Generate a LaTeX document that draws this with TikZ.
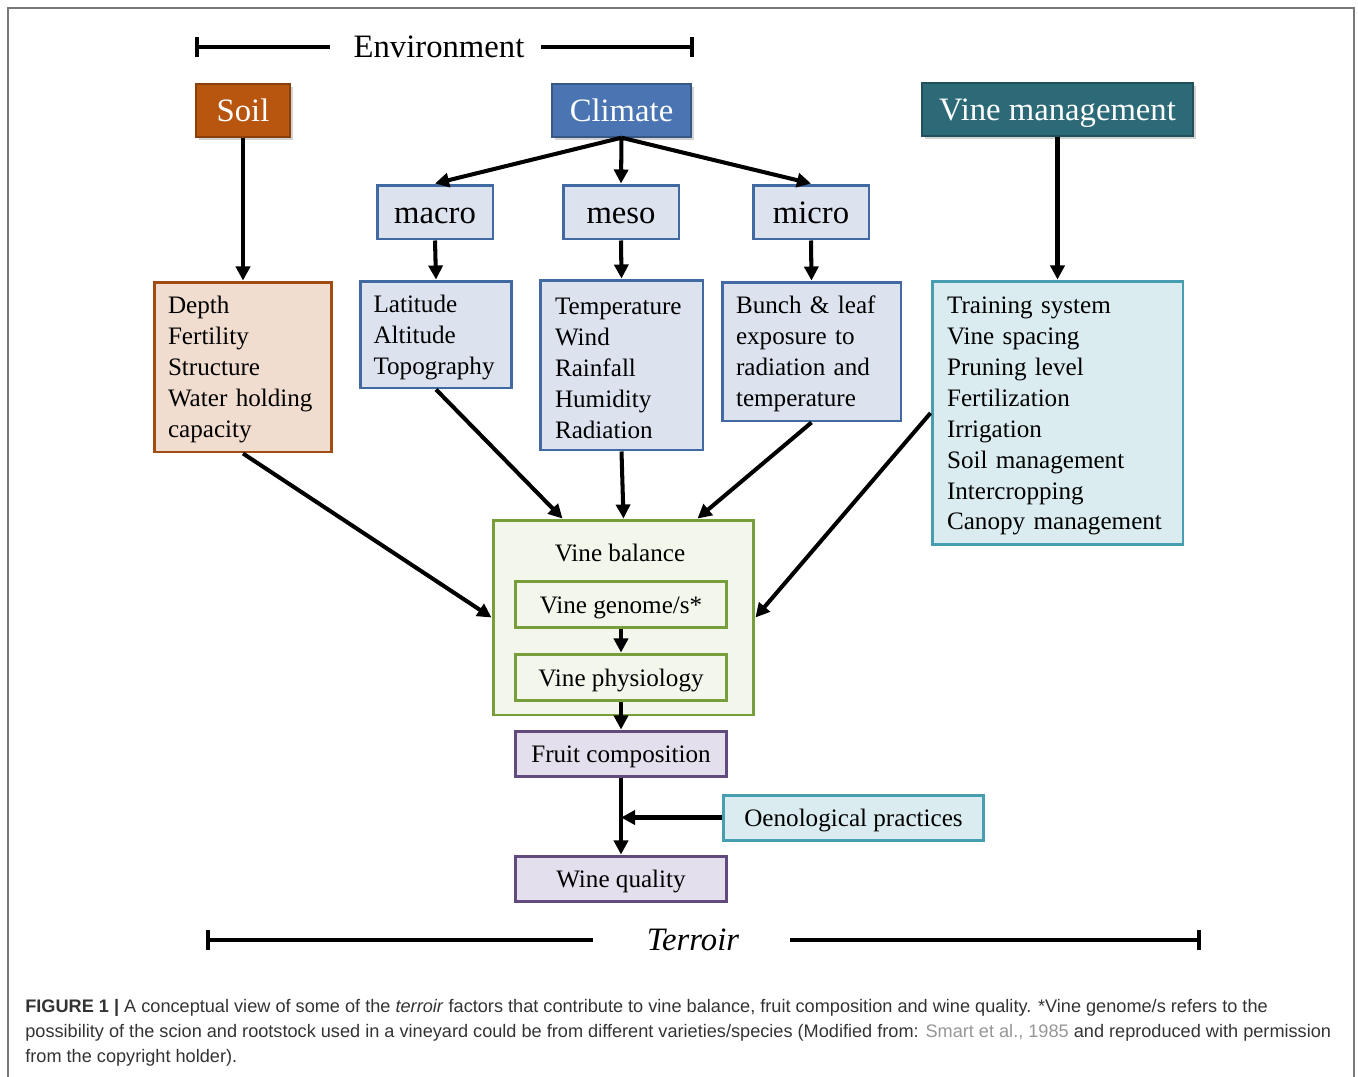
\documentclass[tikz,border=0pt]{standalone}
\usepackage{fontspec}
\setmainfont{Liberation Serif}
\newfontfamily\capfont{Liberation Sans}
\usetikzlibrary{arrows.meta, shadows}

\definecolor{soilhead}{RGB}{184,86,16}
\definecolor{soilfill}{RGB}{241,221,207}
\definecolor{soilline}{RGB}{160,76,18}
\definecolor{climhead}{RGB}{74,117,178}
\definecolor{climfill}{RGB}{220,227,238}
\definecolor{climline}{RGB}{66,106,162}
\definecolor{vmhead}{RGB}{45,106,120}
\definecolor{vmfill}{RGB}{218,236,240}
\definecolor{vmline}{RGB}{70,158,176}
\definecolor{vbfill}{RGB}{243,246,235}
\definecolor{vbline}{RGB}{120,158,60}
\definecolor{fruitfill}{RGB}{228,223,236}
\definecolor{fruitline}{RGB}{96,74,126}
\definecolor{captext}{RGB}{51,51,51}
\definecolor{capref}{RGB}{150,150,150}
\definecolor{framegray}{RGB}{120,120,120}

\newcommand*{\headfont}{\fontsize{18.6}{22}\selectfont}
\newcommand*{\bodyfont}{\fontsize{14.3}{17.6}\selectfont}

\begin{document}
\begin{tikzpicture}[
        x=0.02cm, y=-0.02cm, >={Triangle[length=8pt,width=8pt]},
        link/.style={->, line width=2.3pt},
        bar/.style={line width=2.3pt, {Bar[width=11pt]}-},
        headline/.style={text height=13pt, text depth=0pt},
        bodyline/.style={text height=10.5pt, text depth=0pt},
        head/.style={draw=#1!75!black, fill=#1, text=white, line width=0.8pt,
          font=\headfont, headline, minimum height=1.06cm, inner sep=0pt,
          drop shadow={opacity=0.35, shadow xshift=1.5pt, shadow yshift=-1.5pt}},
        scalebox/.style={draw=climline, fill=climfill, line width=1.7pt, headline,
          font=\headfont, minimum width=2.32cm, minimum height=1.08cm, inner sep=0pt},
        listbox/.style 2 args={draw=#1, fill=#2, line width=1.7pt, font=\bodyfont,
          align=left, inner xsep=0.28cm, inner ysep=0pt,
          execute at begin node=\rule{0pt}{13pt}},
        vinebox/.style={draw=vbline, fill=vbfill, line width=1.7pt, font=\bodyfont, bodyline,
          minimum width=4.24cm, minimum height=0.92cm, inner sep=0pt},
        fruitbox/.style={draw=fruitline, fill=fruitfill, line width=1.7pt, font=\bodyfont, bodyline,
          minimum width=4.24cm, minimum height=0.9cm, inner sep=0pt},
        ]

        % frame and bounding box
        \useasboundingbox (0,0) rectangle (1358,1076);
        \draw[framegray, line width=1.1pt] (8,1090) -- (8,8) -- (1354,8) -- (1354,1090);

        % environment bar
        \coordinate (envL) at (195,47);
        \coordinate (envR) at (694,47);
        \node[font=\headfont, inner sep=0pt] (env) at (439,47) {Environment};
        \draw[bar] (envL) -- ([xshift=-0.46cm]env.west);
        \draw[bar] (envR) -- ([xshift=0.32cm]env.east);

        % top headers
        \node[head=soilhead, minimum width=1.88cm] (soil)    at (243,110.5)  {Soil};
        \node[head=climhead, minimum width=2.78cm] (climate) at (621.5,110.5) {Climate};
        \node[head=vmhead,   minimum width=5.42cm] (vm)      at (1057.5,109.5) {Vine management};

        % climate scales
        \node[scalebox] (macro) at (435,212) {macro};
        \node[scalebox] (meso)  at (621,212) {meso};
        \node[scalebox] (micro) at (811,212) {micro};

        % factor lists
        \node[listbox={soilline}{soilfill}, text width=3cm, minimum height=3.4cm] (soildet) at (243,367)
          {Depth\\Fertility\\Structure\\Water holding\\capacity};
        \node[listbox={climline}{climfill}, text width=2.5cm, inner xsep=0.27cm, minimum height=2.14cm] (macrodet) at (436,334.5)
          {Latitude\\Altitude\\Topography};
        \node[listbox={climline}{climfill}, text width=2.66cm, inner xsep=0.3cm, minimum height=3.4cm] (mesodet) at (621.5,365)
          {Temperature\\Wind\\Rainfall\\Humidity\\Radiation};
        \node[listbox={climline}{climfill}, text width=3.02cm, minimum height=2.78cm] (microdet) at (811.5,351.5)
          {Bunch \& leaf\\exposure to\\radiation and\\temperature};
        \node[listbox={vmline}{vmfill}, text width=4.42cm, inner xsep=0.3cm, minimum height=5.28cm] (vmdet) at (1057.5,413)
          {Training system\\Vine spacing\\Pruning level\\Fertilization\\Irrigation\\Soil management\\Intercropping\\Canopy management};

        % vine balance
        \node[draw=vbline, fill=vbfill, line width=1.7pt, minimum width=5.22cm, minimum height=3.9cm] (vb) at (623.5,617.5) {};
        \node[font=\bodyfont, bodyline, inner sep=0pt] (vbtitle) at (620,552) {Vine balance};
        \node[vinebox] (genome) at (621,604) {Vine genome/s*};
        \node[vinebox] (phys)   at (621,677) {Vine physiology};

        % outputs
        \node[fruitbox] (fruit) at (621,753.5) {Fruit composition};
        \node[fruitbox] (wine)  at (621,878.5) {Wine quality};
        \node[draw=vmline, fill=vmfill, line width=1.7pt, font=\bodyfont, bodyline, minimum width=5.22cm,
          minimum height=0.9cm, inner sep=0pt] (oeno) at (853.5,817.5) {Oenological practices};

        % connectors
        \draw[link] (soil.south) -- (soildet.north);
        \draw[link] (climate.south) -- (macro.north);
        \draw[link] (climate.south) -- (meso.north);
        \draw[link] (climate.south) -- (micro.north);
        \draw[link] (vm.south) -- (vmdet.north);
        \draw[link] (macro.south) -- (macrodet.north);
        \draw[link] (meso.south) -- (mesodet.north);
        \draw[link] (micro.south) -- (microdet.north);
        \draw[link] (soildet.south) -- (vb.west);
        \draw[link] (macrodet.south) -- ([xshift=-1.22cm]vb.north);
        \draw[link] (mesodet.south) -- (vb.north);
        \draw[link] (microdet.south) -- ([xshift=1.48cm]vb.north);
        \draw[link] (vmdet.west) -- (vb.east);
        \draw[link] (genome.south) -- (phys.north);
        \draw[link] (phys.south) -- (fruit.north);
        \draw[link] (fruit.south) -- (wine.north);
        \draw[link] (oeno.west) -- (oeno.west -| fruit.south);

        % terroir bar
        \coordinate (terL) at (206,940);
        \coordinate (terR) at (1201,940);
        \node[font=\headfont\itshape, inner sep=0pt] (terroir) at (693,940) {Terroir};
        \draw[bar] (terL) -- ([xshift=-1.08cm]terroir.west);
        \draw[bar] (terR) -- ([xshift=1.02cm]terroir.east);

        % caption
        \node[anchor=north west, align=left, inner sep=0pt, text=captext,
          font=\capfont\fontsize{10.33}{14.2}\selectfont] (caption) at (25,999)
          {\textbf{FIGURE 1 |} A conceptual view of some of the \textit{terroir} factors that contribute to vine balance, fruit composition and wine quality. *Vine genome/s refers to the\\
           possibility of the scion and rootstock used in a vineyard could be from different varieties/species (Modified from: \textcolor{capref}{Smart et al., 1985} and reproduced with permission\\
           from the copyright holder).};
\end{tikzpicture}
\end{document}
